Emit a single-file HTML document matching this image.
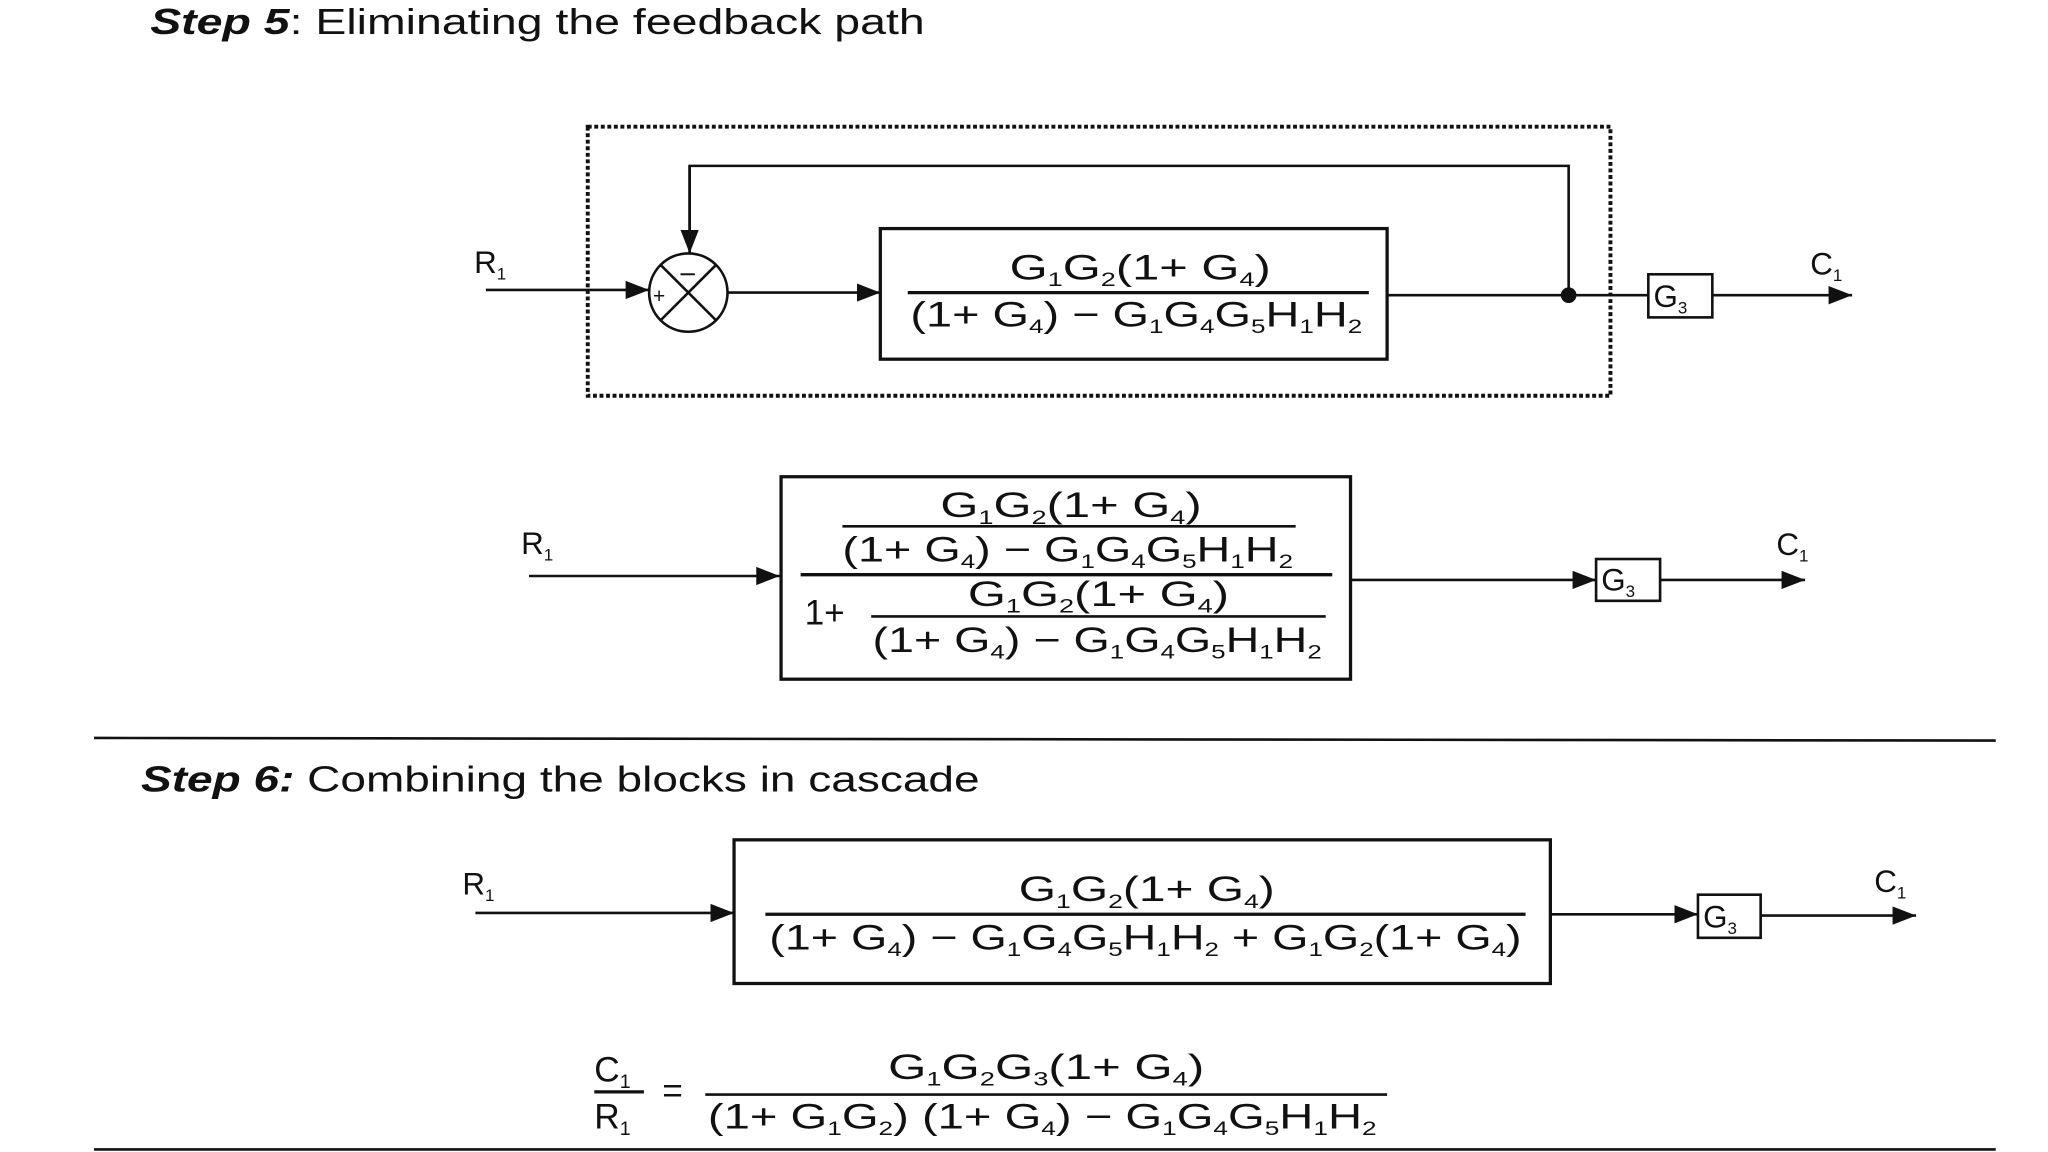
<!DOCTYPE html>
<html><head><meta charset="utf-8"><style>
html,body{margin:0;padding:0;background:#fff;width:2048px;height:1152px;overflow:hidden}
svg{display:block}
text{font-family:"Liberation Sans",sans-serif;fill:#111}
</style></head><body>
<svg width="2048" height="1152" viewBox="0 0 1568 882" preserveAspectRatio="none" xmlns="http://www.w3.org/2000/svg">
<defs>
<marker id="b" markerWidth="18" markerHeight="14" refX="18" refY="7" orient="auto" markerUnits="userSpaceOnUse"><path d="M0,0 L18,7 L0,14 z" fill="#111"/></marker>
</defs>
<g stroke="#111" fill="none" stroke-width="2">
<rect x="450" y="97" width="783" height="206" stroke-dasharray="3,2" stroke-width="3"/>
<polyline points="528,194 528,127 1201,127 1201,226"/>
<line x1="528" y1="127" x2="528" y2="194" marker-end="url(#b)"/>
<line x1="372" y1="222" x2="497" y2="222" marker-end="url(#b)"/>
<circle cx="527" cy="224" r="30"/>
<line x1="506" y1="203" x2="548" y2="245"/><line x1="548" y1="203" x2="506" y2="245"/>
<line x1="557" y1="224" x2="674" y2="224" marker-end="url(#b)"/>
<rect x="674" y="175" width="388" height="100" stroke-width="2.5"/>
<line x1="695" y1="224" x2="1048" y2="224" stroke-width="2.5"/>
<line x1="1062" y1="226" x2="1262" y2="226"/>
<rect x="1262" y="210" width="49" height="33"/>
<line x1="1311" y1="226" x2="1418" y2="226" marker-end="url(#b)"/>
<line x1="405" y1="441" x2="597" y2="441" marker-end="url(#b)"/>
<rect x="598" y="365" width="436" height="155" stroke-width="2.5"/>
<line x1="645" y1="403" x2="992" y2="403"/>
<line x1="613" y1="440" x2="1020" y2="440" stroke-width="2.5"/>
<line x1="667" y1="472" x2="1015" y2="472"/>
<line x1="1035" y1="444" x2="1222" y2="444" marker-end="url(#b)"/>
<rect x="1222" y="428" width="49" height="32"/>
<line x1="1271" y1="444" x2="1382" y2="444" marker-end="url(#b)"/>
<line x1="72" y1="565" x2="1528" y2="567" stroke-width="2"/>
<line x1="364" y1="699" x2="562" y2="699" marker-end="url(#b)"/>
<rect x="562" y="643" width="625" height="110" stroke-width="2.5"/>
<line x1="586" y1="700" x2="1168" y2="700" stroke-width="2.5"/>
<line x1="1188" y1="700" x2="1300" y2="700" marker-end="url(#b)"/>
<rect x="1300" y="685" width="48" height="33"/>
<line x1="1348" y1="701" x2="1467" y2="701" marker-end="url(#b)"/>
<line x1="455" y1="836" x2="493" y2="836" stroke-width="2.5"/>
<line x1="540" y1="838" x2="1062" y2="838" stroke-width="2"/>
<line x1="72" y1="880" x2="1528" y2="880" stroke-width="2"/>
</g>
<circle cx="1201" cy="226" r="6" fill="#111"/>
<line x1="521" y1="210" x2="532" y2="210" stroke="#111" stroke-width="1.5"/>

<text x="115" y="26" font-size="28" textLength="593" lengthAdjust="spacingAndGlyphs"><tspan font-style="italic" font-weight="bold">Step 5</tspan>: Eliminating the feedback path</text>
<text x="108" y="606" font-size="28" textLength="642" lengthAdjust="spacingAndGlyphs"><tspan font-style="italic" font-weight="bold">Step 6:</tspan> Combining the blocks in cascade</text>

<text x="500" y="232" font-size="16">+</text>

<text x="363" y="209" font-size="24">R<tspan dy="5" font-size="13">1</tspan></text>
<text x="1386" y="210" font-size="24">C<tspan dy="5" font-size="13">1</tspan></text>
<text x="1266" y="235" font-size="24">G<tspan dy="5" font-size="13">3</tspan></text>
<text x="773" y="214" font-size="27" textLength="200" lengthAdjust="spacingAndGlyphs">G<tspan dy="5" font-size="15">1</tspan><tspan dy="-5">G</tspan><tspan dy="5" font-size="15">2</tspan><tspan dy="-5">(1+ G</tspan><tspan dy="5" font-size="15">4</tspan><tspan dy="-5">)</tspan></text>
<text x="697" y="250" font-size="27" textLength="346" lengthAdjust="spacingAndGlyphs">(1+ G<tspan dy="5" font-size="15">4</tspan><tspan dy="-5">) − G</tspan><tspan dy="5" font-size="15">1</tspan><tspan dy="-5">G</tspan><tspan dy="5" font-size="15">4</tspan><tspan dy="-5">G</tspan><tspan dy="5" font-size="15">5</tspan><tspan dy="-5">H</tspan><tspan dy="5" font-size="15">1</tspan><tspan dy="-5">H</tspan><tspan dy="5" font-size="15">2</tspan></text>

<text x="399" y="424" font-size="24">R<tspan dy="5" font-size="13">1</tspan></text>
<text x="1360" y="425" font-size="24">C<tspan dy="5" font-size="13">1</tspan></text>
<text x="1226" y="452" font-size="24">G<tspan dy="5" font-size="13">3</tspan></text>
<text x="720" y="396" font-size="27" textLength="200" lengthAdjust="spacingAndGlyphs">G<tspan dy="5" font-size="15">1</tspan><tspan dy="-5">G</tspan><tspan dy="5" font-size="15">2</tspan><tspan dy="-5">(1+ G</tspan><tspan dy="5" font-size="15">4</tspan><tspan dy="-5">)</tspan></text>
<text x="645" y="430" font-size="27" textLength="345" lengthAdjust="spacingAndGlyphs">(1+ G<tspan dy="5" font-size="15">4</tspan><tspan dy="-5">) − G</tspan><tspan dy="5" font-size="15">1</tspan><tspan dy="-5">G</tspan><tspan dy="5" font-size="15">4</tspan><tspan dy="-5">G</tspan><tspan dy="5" font-size="15">5</tspan><tspan dy="-5">H</tspan><tspan dy="5" font-size="15">1</tspan><tspan dy="-5">H</tspan><tspan dy="5" font-size="15">2</tspan></text>
<text x="616" y="478" font-size="27">1+</text>
<text x="741" y="464" font-size="27" textLength="200" lengthAdjust="spacingAndGlyphs">G<tspan dy="5" font-size="15">1</tspan><tspan dy="-5">G</tspan><tspan dy="5" font-size="15">2</tspan><tspan dy="-5">(1+ G</tspan><tspan dy="5" font-size="15">4</tspan><tspan dy="-5">)</tspan></text>
<text x="668" y="499" font-size="27" textLength="344" lengthAdjust="spacingAndGlyphs">(1+ G<tspan dy="5" font-size="15">4</tspan><tspan dy="-5">) − G</tspan><tspan dy="5" font-size="15">1</tspan><tspan dy="-5">G</tspan><tspan dy="5" font-size="15">4</tspan><tspan dy="-5">G</tspan><tspan dy="5" font-size="15">5</tspan><tspan dy="-5">H</tspan><tspan dy="5" font-size="15">1</tspan><tspan dy="-5">H</tspan><tspan dy="5" font-size="15">2</tspan></text>

<text x="354" y="685" font-size="24">R<tspan dy="5" font-size="13">1</tspan></text>
<text x="1435" y="683" font-size="24">C<tspan dy="5" font-size="13">1</tspan></text>
<text x="1304" y="710" font-size="24">G<tspan dy="5" font-size="13">3</tspan></text>
<text x="780" y="690" font-size="27" textLength="196" lengthAdjust="spacingAndGlyphs">G<tspan dy="5" font-size="15">1</tspan><tspan dy="-5">G</tspan><tspan dy="5" font-size="15">2</tspan><tspan dy="-5">(1+ G</tspan><tspan dy="5" font-size="15">4</tspan><tspan dy="-5">)</tspan></text>
<text x="589" y="727" font-size="27" textLength="576" lengthAdjust="spacingAndGlyphs">(1+ G<tspan dy="5" font-size="15">4</tspan><tspan dy="-5">) − G</tspan><tspan dy="5" font-size="15">1</tspan><tspan dy="-5">G</tspan><tspan dy="5" font-size="15">4</tspan><tspan dy="-5">G</tspan><tspan dy="5" font-size="15">5</tspan><tspan dy="-5">H</tspan><tspan dy="5" font-size="15">1</tspan><tspan dy="-5">H</tspan><tspan dy="5" font-size="15">2</tspan><tspan dy="-5"> + G</tspan><tspan dy="5" font-size="15">1</tspan><tspan dy="-5">G</tspan><tspan dy="5" font-size="15">2</tspan><tspan dy="-5">(1+ G</tspan><tspan dy="5" font-size="15">4</tspan><tspan dy="-5">)</tspan></text>

<text x="455" y="828" font-size="27">C<tspan dy="5" font-size="15">1</tspan></text>
<text x="455" y="864" font-size="27">R<tspan dy="5" font-size="15">1</tspan></text>
<text x="507" y="844" font-size="27">=</text>
<text x="680" y="826" font-size="27" textLength="242" lengthAdjust="spacingAndGlyphs">G<tspan dy="5" font-size="15">1</tspan><tspan dy="-5">G</tspan><tspan dy="5" font-size="15">2</tspan><tspan dy="-5">G</tspan><tspan dy="5" font-size="15">3</tspan><tspan dy="-5">(1+ G</tspan><tspan dy="5" font-size="15">4</tspan><tspan dy="-5">)</tspan></text>
<text x="542" y="864" font-size="27" textLength="512" lengthAdjust="spacingAndGlyphs">(1+ G<tspan dy="5" font-size="15">1</tspan><tspan dy="-5">G</tspan><tspan dy="5" font-size="15">2</tspan><tspan dy="-5">) (1+ G</tspan><tspan dy="5" font-size="15">4</tspan><tspan dy="-5">) − G</tspan><tspan dy="5" font-size="15">1</tspan><tspan dy="-5">G</tspan><tspan dy="5" font-size="15">4</tspan><tspan dy="-5">G</tspan><tspan dy="5" font-size="15">5</tspan><tspan dy="-5">H</tspan><tspan dy="5" font-size="15">1</tspan><tspan dy="-5">H</tspan><tspan dy="5" font-size="15">2</tspan></text>
</svg>
</body></html>
